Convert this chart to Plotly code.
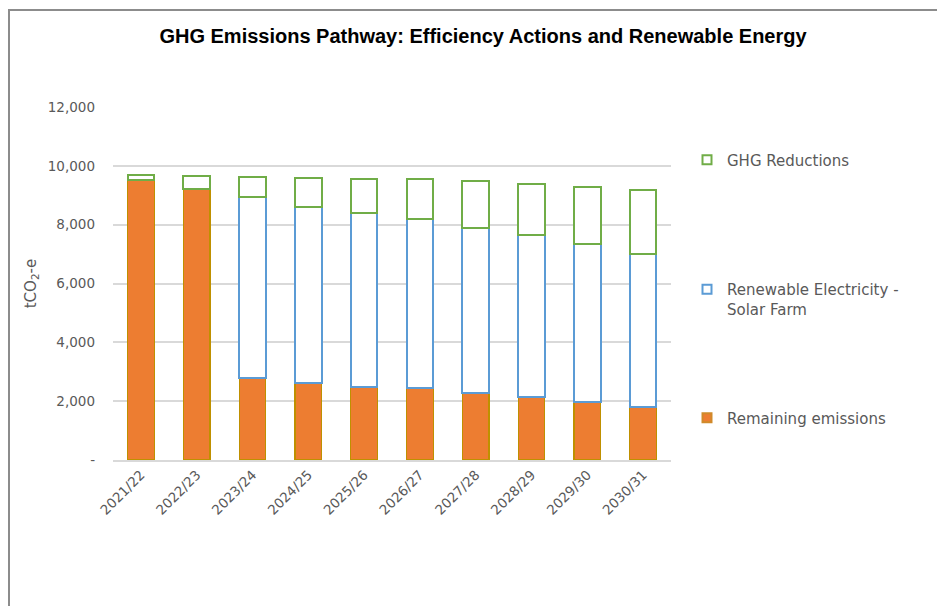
import plotly.graph_objects as go

categories = ["2021/22", "2022/23", "2023/24", "2024/25", "2025/26",
              "2026/27", "2027/28", "2028/29", "2029/30", "2030/31"]
remaining = [9517, 9211, 2777, 2607, 2471, 2437, 2289, 2130, 1960, 1790]
renewable = [0, 0, 6152, 6003, 5914, 5744, 5607, 5518, 5382, 5202]
ghg_reductions = [181, 453, 701, 986, 1177, 1379, 1575, 1733, 1937, 2185]
y_ticks = [0, 2000, 4000, 6000, 8000, 10000, 12000]
y_ticktext = ["-", "2,000", "4,000", "6,000", "8,000", "10,000", "12,000"]

W, H = 945, 606
OFF = 8  # page body margin offset
L, R, T, B = 113, 671, 107, 460  # target on-screen plot area


def px(x):
    return (x - L) / (R - L)


def py(y):
    return (B - y) / (B - T)


FONT = "DejaVu Sans"
GREY = "#595959"

series = [
    ("Remaining emissions", remaining, "#ED7D31", "#BF9000", 1.2, "legend3"),
    ("Renewable Electricity -<br>Solar Farm", renewable, "white", "#5B9BD5", 2, "legend2"),
    ("GHG Reductions", ghg_reductions, "white", "#70AD47", 2, "legend"),
]

fig = go.Figure()
for name, vals, fill, edge, lw, leg in series:
    fig.add_trace(go.Bar(
        x=categories, y=vals, name=name, legendgroup=name, showlegend=False,
        marker=dict(color=fill, line=dict(color=edge, width=lw)),
    ))
for name, vals, fill, edge, lw, leg in series:
    # legend-only entry with a small square swatch like the original
    fig.add_trace(go.Scatter(
        x=[None], y=[None], mode="markers", name=name, legendgroup=name,
        legend=leg, showlegend=True, hoverinfo="skip",
        marker=dict(symbol="square", size=9, color=fill,
                    line=dict(color=(edge if fill == "white" else "#D08A2A"), width=2)),
    ))

leg_common = dict(font=dict(family=FONT, size=15, color=GREY),
                  bgcolor="rgba(0,0,0,0)", itemwidth=30,
                  xanchor="left", yanchor="middle", valign="top")

fig.update_layout(
    width=W, height=H,
    margin=dict(l=L - OFF, r=W - R + OFF, t=T - OFF, b=H - B + OFF),
    barmode="stack",
    bargap=0.52,
    showlegend=True,
    paper_bgcolor="white",
    plot_bgcolor="white",
    title=dict(text="<b>GHG Emissions Pathway: Efficiency Actions and Renewable Energy</b>",
               x=(483 - OFF) / W, xanchor="center", y=1 - (36 - OFF) / H, yanchor="middle",
               font=dict(family="Liberation Sans", size=20, color="black")),
    legend=dict(x=px(687), y=py(160), **leg_common),
    legend2=dict(x=px(687), y=py(299), **leg_common),
    legend3=dict(x=px(687), y=py(418), **leg_common),
    xaxis=dict(
        tickangle=-45,
        tickfont=dict(family=FONT, size=13.5, color=GREY),
        showline=True, linecolor="#D9D9D9", linewidth=1.5,
        ticks="",
        showgrid=False,
    ),
    yaxis=dict(
        range=[0, 12000],
        tickvals=y_ticks, ticktext=y_ticktext,
        tickfont=dict(family=FONT, size=13.5, color=GREY),
        showgrid=True, gridcolor="#D9D9D9", gridwidth=1.5,
        zeroline=False, showline=False,
        ticks="", ticklabelstandoff=17,
        title=dict(text="tCO<sub>2</sub>-e", font=dict(family=FONT, size=15, color=GREY),
                   standoff=7),
    ),
    shapes=[
        dict(type="line", xref="paper", yref="paper",
             x0=px(9), x1=px(9), y0=py(10), y1=py(620),
             line=dict(color="#8C8C8C", width=2)),
        dict(type="line", xref="paper", yref="paper",
             x0=px(8), x1=px(960), y0=py(10), y1=py(10),
             line=dict(color="#8C8C8C", width=2)),
    ],
)

fig.write_html("out.html")
